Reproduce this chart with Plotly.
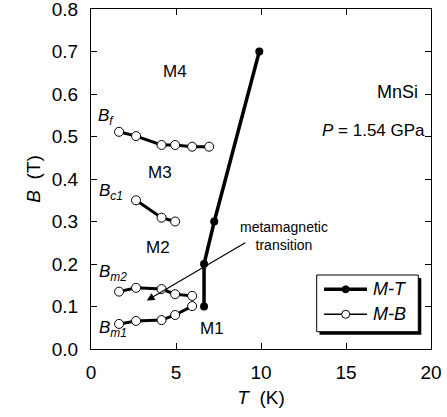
import plotly.graph_objects as go

# M-T data
mt_T = [6.65, 6.65, 7.25, 9.9]
mt_B = [0.10, 0.20, 0.30, 0.70]

# M-B data (branches)
bf_T = [1.65, 2.65, 4.15, 4.95, 5.95, 6.95]
bf_B = [0.511, 0.501, 0.480, 0.480, 0.476, 0.476]
bc1_T = [2.65, 4.15, 4.95]
bc1_B = [0.350, 0.309, 0.300]
bm2_T = [1.65, 2.65, 4.15, 4.95, 5.95]
bm2_B = [0.135, 0.144, 0.141, 0.129, 0.125]
bm1_T = [1.65, 2.65, 4.15, 4.95, 5.95]
bm1_B = [0.059, 0.066, 0.068, 0.080, 0.101]

x_ticks = [0, 5, 10, 15, 20]
y_ticks = [0.0, 0.1, 0.2, 0.3, 0.4, 0.5, 0.6, 0.7, 0.8]

FONT = "Liberation Sans, Arial, Helvetica, sans-serif"

fig = go.Figure()

branches = [(bf_T, bf_B), (bc1_T, bc1_B), (bm2_T, bm2_B), (bm1_T, bm1_B)]
for i, (tx, by) in enumerate(branches):
    fig.add_trace(go.Scatter(
        x=tx, y=by, mode="lines+markers", name="M-B",
        showlegend=False,
        line=dict(color="black", width=3),
        marker=dict(symbol="circle", size=9, color="white",
                    line=dict(color="black", width=1)),
    ))

fig.add_trace(go.Scatter(
    x=mt_T, y=mt_B, mode="lines+markers", name="M-T", showlegend=False,
    line=dict(color="black", width=3.5),
    marker=dict(symbol="circle", size=8, color="black"),
))

fig.update_xaxes(
    range=[0, 20], tickvals=x_ticks, ticktext=[str(v) for v in x_ticks],
    ticks="inside", ticklen=6, tickcolor="black", tickwidth=1,
    showline=True, linecolor="black", linewidth=1, mirror="ticks",
    showgrid=False, zeroline=False, ticklabeloverflow="allow", automargin=False,
    tickfont=dict(family=FONT, size=19, color="black"),
    title=dict(text="<i>T</i>  (K)", font=dict(family=FONT, size=19, color="black"), standoff=8),
    ticklabelstandoff=6,
)
fig.update_yaxes(
    range=[0, 0.8], tickvals=y_ticks, ticktext=[f"{v:.1f}" for v in y_ticks],
    ticks="inside", ticklen=6, tickcolor="black", tickwidth=1,
    showline=True, linecolor="black", linewidth=1, mirror="ticks",
    showgrid=False, zeroline=False, ticklabeloverflow="allow", automargin=False,
    tickfont=dict(family=FONT, size=19, color="black"),
    title=dict(text="<i>B</i>  (T)", font=dict(family=FONT, size=19, color="black"), standoff=6),
    ticklabelstandoff=8,
)

def txt(x, y, s, size=17, xanchor="center", yanchor="middle"):
    fig.add_annotation(x=x, y=y, text=s, showarrow=False, xanchor=xanchor, yanchor=yanchor,
                       font=dict(family=FONT, size=size, color="black"))

txt(4.94, 0.652, "M4")
txt(4.06, 0.416, "M3")
txt(3.94, 0.238, "M2")
txt(7.1, 0.049, "M1")
txt(18.0, 0.605, "MnSi", size=18)
txt(16.6, 0.515, "<i>P</i> = 1.54 GPa", size=17)
txt(0.28, 0.545, "<i>B</i><sub><i>f</i></sub>", xanchor="left")
txt(0.33, 0.37, "<i>B</i><sub><i>c1</i></sub>", xanchor="left")
txt(0.33, 0.18, "<i>B</i><sub><i>m2</i></sub>", xanchor="left")
txt(0.33, 0.048, "<i>B</i><sub><i>m1</i></sub>", xanchor="left")

fig.add_annotation(x=11.37, y=0.266, text="metamagnetic<br>transition", showarrow=False,
                   font=dict(family=FONT, size=14, color="black"))
fig.add_annotation(x=3.28, y=0.114, ax=9.16, ay=0.252, axref="x", ayref="y",
                   xref="x", yref="y", showarrow=True, arrowhead=2, arrowsize=1.3,
                   arrowwidth=1.2, arrowcolor="black", text="")

# manual legend (pixel -> paper)
def px(p):
    return (p - 91) / 340.0
def py(p):
    return (349 - p) / 340.0

fig.add_shape(type="rect", xref="paper", yref="paper",
              x0=px(319.5), x1=px(421.3), y0=py(334.7), y1=py(278),
              fillcolor="black", line=dict(width=0))
fig.add_shape(type="rect", xref="paper", yref="paper",
              x0=px(316.7), x1=px(418.3), y0=py(331.7), y1=py(275),
              fillcolor="white", line=dict(color="black", width=1))
legend_rows = [("M-T", 289.3, 3.5, "black", 7), ("M-B", 314.3, 1.5, "white", 8)]
for name, ry, lw, fc, msz in legend_rows:
    fig.add_shape(type="line", xref="paper", yref="paper",
                  x0=px(324), x1=px(367), y0=py(ry), y1=py(ry),
                  line=dict(color="black", width=lw))
    fig.add_shape(type="circle", xref="paper", yref="paper",
                  xsizemode="pixel", ysizemode="pixel",
                  xanchor=px(345.7), yanchor=py(ry),
                  x0=-msz / 2, x1=msz / 2, y0=-msz / 2, y1=msz / 2,
                  fillcolor=fc, line=dict(color="black", width=1))
    fig.add_annotation(xref="paper", yref="paper", x=px(371), y=py(ry), text=f"<i>{name}</i>",
                       showarrow=False, xanchor="left", yanchor="middle",
                       font=dict(family=FONT, size=18, color="black"))

fig.update_layout(
    width=447, height=417,
    margin=dict(l=91, r=16, t=9, b=68),
    plot_bgcolor="white", paper_bgcolor="white",
    showlegend=False,
)

fig.write_html("out.html")
